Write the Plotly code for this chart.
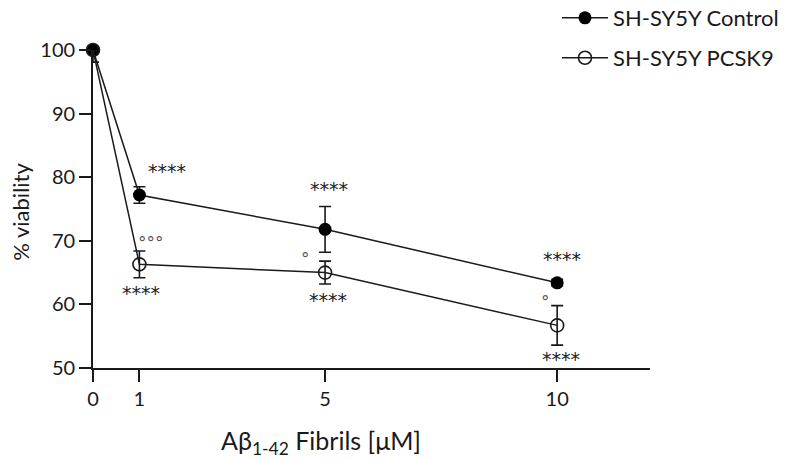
import plotly.graph_objects as go

doses = [0, 1, 5, 10]
control = [100, 77.2, 71.8, 63.4]
control_err_plus = [0, 1.3, 3.6, 0.5]
control_err_minus = [0, 1.3, 3.6, 0.5]
pcsk9 = [100, 66.3, 65.0, 56.7]
pcsk9_err_plus = [0, 2.1, 1.8, 3.1]
pcsk9_err_minus = [1.9, 2.1, 1.8, 3.1]

y_ticks = [50, 60, 70, 80, 90, 100]
x_ticks = [0, 1, 5, 10]

star_text = ["****", "****", "****", "****", "****", "****"]
star_x = [1.6, 1.03, 5.09, 5.06, 10.1, 10.08]
star_y = [81.4, 62.2, 78.6, 61.1, 67.6, 51.9]

circ_text = ["°°°", "°", "°"]
circ_x = [1.25, 4.57, 9.75]
circ_y = [70.5, 68.0, 61.1]

FONT = "Lato"
INK = "#1a1a1a"

fig = go.Figure()
fig.add_trace(go.Scatter(
    x=doses, y=control, mode="lines+markers", name="SH-SY5Y Control",
    line=dict(color=INK, width=1.5),
    marker=dict(symbol="circle", size=13, color="#000000"),
    error_y=dict(type="data", symmetric=False, array=control_err_plus, arrayminus=control_err_minus,
                 color=INK, thickness=1.6, width=6),
    cliponaxis=False, legend="legend", showlegend=True,
))
fig.add_trace(go.Scatter(
    x=doses, y=pcsk9, mode="lines+markers", name="SH-SY5Y PCSK9",
    line=dict(color=INK, width=1.5),
    marker=dict(symbol="circle-open", size=13, color=INK, line=dict(width=1.6)),
    error_y=dict(type="data", symmetric=False, array=pcsk9_err_plus, arrayminus=pcsk9_err_minus,
                 color=INK, thickness=1.6, width=6),
    cliponaxis=False, legend="legend2", showlegend=True,
))

for t, x, y in zip(star_text, star_x, star_y):
    fig.add_annotation(x=x, y=y, xref="x", yref="y", text=t, showarrow=False,
                       font=dict(family="DejaVu Sans", size=19, color="#222222"), yshift=-3)
for t, x, y in zip(circ_text, circ_x, circ_y):
    fig.add_annotation(x=x, y=y, xref="x", yref="y", text=t, showarrow=False,
                       font=dict(family="DejaVu Sans", size=17, color="#555555"), yshift=-5)

fig.add_annotation(x=4.91, y=-0.233, xref="x", yref="paper", xanchor="center",
                   text="Aβ<sub>1-42</sub> Fibrils [μM]", showarrow=False,
                   font=dict(family=FONT, size=25, color=INK), yanchor="middle")
fig.add_annotation(x=-0.13, y=0.49, xref="paper", yref="paper", text="% viability",
                   textangle=-90, showarrow=False, xanchor="center", yanchor="middle",
                   font=dict(family=FONT, size=22, color=INK))

# page body has an 8px margin, so the figure is made 8px smaller and margins shifted
fig.update_layout(
    width=787, height=452,
    margin=dict(l=85, r=145, t=42, b=92, autoexpand=False),
    paper_bgcolor="white", plot_bgcolor="white",
    showlegend=True,
    font=dict(family=FONT, color=INK),
    legend=dict(x=0.833, y=1.1006, xanchor="left", yanchor="middle", visible=True,
                font=dict(family=FONT, size=22, color=INK), itemwidth=46,
                bgcolor="rgba(0,0,0,0)"),
    legend2=dict(x=0.833, y=0.975, xanchor="left", yanchor="middle", visible=True,
                 font=dict(family=FONT, size=22, color=INK), itemwidth=46,
                 bgcolor="rgba(0,0,0,0)"),
    xaxis=dict(range=[0, 12], tickvals=x_ticks, ticktext=[str(v) for v in x_ticks],
               showline=True, linecolor=INK, linewidth=1.8, ticks="outside",
               ticklen=12, tickwidth=1.8, tickcolor=INK, showgrid=False, zeroline=False,
               tickfont=dict(family=FONT, size=20, color=INK)),
    yaxis=dict(range=[50, 100], tickvals=y_ticks, showline=True, linecolor=INK,
               linewidth=1.8, ticks="outside", ticklen=12, tickwidth=1.8, tickcolor=INK,
               showgrid=False, zeroline=False,
               tickfont=dict(family=FONT, size=20, color=INK)),
)

fig.write_html("out.html")
